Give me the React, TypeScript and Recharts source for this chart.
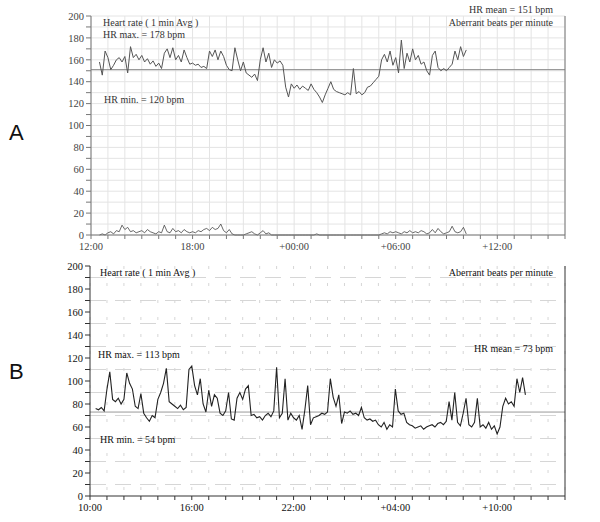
import React from "react";
import { LineChart, Line, XAxis, YAxis, CartesianGrid, ReferenceLine } from "recharts";

// Panel A: start 12:30 (0.5 h after 12:00), 10-minute samples
const startA = 0.5;
const stepH = 1 / 6;
const hrA = [
  158, 146, 168,
  162, 151, 155, 160, 162, 158,
  163, 148, 172, 162, 165, 160,
  164, 158, 161, 156, 159, 154,
  157, 152, 166, 170, 162, 171,
  160, 164, 158, 169, 162, 156,
  157, 155, 156, 153, 154, 152,
  168, 163, 169, 160, 168, 163,
  155, 151, 150, 171, 160, 150,
  158, 148, 146, 144, 147, 141,
  160, 171, 158, 166, 153, 160,
  157, 159, 155, 135, 126, 138,
  134, 137, 133, 136, 134, 132,
  138, 133, 130, 126, 121, 128,
  134, 140, 133, 131, 130, 129,
  128, 130, 128, 152, 129, 131,
  128, 130, 135, 136, 139, 142,
  145, 160, 165, 158, 168, 155,
  162, 148, 178, 152, 166, 158,
  170, 160, 164, 156, 158, 150,
  146, 164, 168, 153, 150, 152,
  150, 153, 156, 168, 160, 172,
  163, 169,
];
const abA = [
  0, 1, 0,
  2, 3, 1, 4, 3, 9,
  5, 7, 3, 4, 2, 3,
  4, 2, 5, 3, 2, 1,
  3, 2, 9, 3, 2, 6,
  3, 4, 2, 5, 3, 2,
  3, 2, 4, 3, 5, 6,
  4, 7, 5, 6, 10, 4,
  2, 5, 1, 0, 0, 0,
  0, 1, 2, 3, 1, 0,
  2, 4, 1, 2, 0, 0,
  0, 0, 0, 0, 0, 0,
  0, 0, 0, 0, 0, 0,
  0, 0, 1, 0, 0, 0,
  0, 0, 0, 0, 0, 0,
  0, 0, 0, 0, 0, 0,
  0, 0, 0, 0, 0, 0,
  0, 1, 2, 1, 3, 2,
  3, 2, 1, 3, 2, 4,
  2, 3, 2, 4, 3, 1,
  2, 5, 2, 6, 3, 1,
  2, 3, 8, 3, 2, 3,
  7, 1,
];
const meanA = 151;
const xLabelsA = ["12:00", "18:00", "+00:00", "+06:00", "+12:00"];

// Panel B: start 10:20 (0.33 h after 10:00), 10-minute samples
const startB = 2 / 6;
const hrB = [
  76, 75, 77, 74,
  93, 108, 84, 82, 85, 80,
  84, 107, 98, 93, 78, 76,
  89, 72, 68, 65, 70, 68,
  84, 90, 98, 111, 82, 80,
  78, 76, 79, 75, 77, 110,
  113, 96, 88, 102, 80, 73,
  92, 78, 88, 85, 72, 70,
  74, 90, 67, 66, 85, 90,
  84, 93, 96, 70, 71, 68,
  69, 66, 70, 72, 69, 74,
  112, 68, 72, 102, 66, 72,
  68, 66, 70, 58, 75, 96,
  62, 68, 69, 70, 72, 71,
  73, 102, 86, 78, 88, 63,
  73, 72, 74, 71, 72, 70,
  77, 68, 66, 67, 65, 66,
  62, 60, 64, 58, 62, 60,
  93, 74, 71, 72, 64, 62,
  61, 59, 60, 61, 58, 60,
  61, 62, 60, 63, 64, 62,
  65, 82, 66, 90, 64, 61,
  72, 85, 62, 60, 64, 85,
  60, 62, 59, 64, 58, 61,
  54, 60, 78, 85, 80, 82,
  78, 102, 90, 103, 88,
];
const meanB = 73;
const xLabelsB = ["10:00", "16:00", "22:00", "+04:00", "+10:00"];

const hourTicks = Array.from({ length: 29 }, (_, i) => i);
const yTicks = Array.from({ length: 21 }, (_, i) => i * 10);
const gridHB = [10, 30, 50, 70, 90, 110, 130, 150, 170, 190];

const dataA = hrA.map((v, i) => ({ t: startA + i * stepH, hr: v, ab: abA[i] ?? null }));
const dataB = hrB.map((v, i) => ({ t: startB + i * stepH, hr: v }));

const SERIF = "'Liberation Serif', 'Times New Roman', serif";

function xFmt(labels: string[]) {
  return (v: number) => (v % 6 === 0 && v / 6 < labels.length ? labels[v / 6] : "");
}
const yFmt = (v: number) => (v % 20 === 0 ? String(v) : "");

const txt = (extra: React.CSSProperties): React.CSSProperties => ({
  position: "absolute",
  fontFamily: SERIF,
  fontSize: 10,
  lineHeight: "10px",
  whiteSpace: "nowrap",
  ...extra,
});

export default function App() {
  const tickA = { fontFamily: SERIF, fontSize: 10.5, fill: "#444" };
  const tickB = { fontFamily: SERIF, fontSize: 10.5, fill: "#111" };
  return (
    <div style={{ position: "absolute", left: 0, top: 0, width: 600, height: 522, background: "#fff" }}>
      <div style={{ position: "absolute", left: 0, top: 0 }}>
        <LineChart width={600} height={255} data={dataA} margin={{ top: 16, right: 0, bottom: 0, left: 51 }}>
          <CartesianGrid yAxisId="l" stroke="#e4e4e4" strokeWidth={1} horizontalValues={yTicks} verticalValues={hourTicks} />
          <XAxis
            dataKey="t"
            type="number"
            domain={[0, 28]}
            ticks={hourTicks}
            interval={0}
            tickFormatter={xFmt(xLabelsA)}
            tick={tickA}
            tickSize={4}
            tickMargin={4}
            height={20}
            stroke="#777"
          />
          <YAxis yAxisId="l" domain={[0, 200]} ticks={yTicks} interval={0} tickFormatter={yFmt} tick={tickA} tickSize={5} width={40} stroke="#777" />
          <YAxis yAxisId="r" orientation="right" domain={[0, 200]} ticks={yTicks} interval={0} tickFormatter={yFmt} tick={tickA} tickSize={5} width={35} stroke="#777" />
          <ReferenceLine yAxisId="l" y={meanA} stroke="#8a8a8a" strokeWidth={1} />
          <Line yAxisId="l" dataKey="hr" stroke="#555" strokeWidth={1} dot={false} isAnimationActive={false} />
          <Line yAxisId="l" dataKey="ab" stroke="#444" strokeWidth={0.8} dot={false} isAnimationActive={false} />
        </LineChart>
      </div>
      <div style={{ position: "absolute", left: 0, top: 250 }}>
        <LineChart width={600} height={266} data={dataB} margin={{ top: 16, right: 0, bottom: 0, left: 50 }}>
          <CartesianGrid yAxisId="l" vertical={false} stroke="#d6d6d6" strokeDasharray="16 9" horizontalValues={gridHB} />
          <CartesianGrid yAxisId="l" horizontal={false} stroke="#d6d6d6" strokeDasharray="3 14" verticalValues={hourTicks} />
          <XAxis
            dataKey="t"
            type="number"
            domain={[0, 28]}
            ticks={hourTicks}
            interval={0}
            tickFormatter={xFmt(xLabelsB)}
            tick={tickB}
            tickSize={4}
            tickMargin={4}
            height={20}
            stroke="#333"
          />
          <YAxis yAxisId="l" domain={[0, 200]} ticks={yTicks} interval={0} tickFormatter={yFmt} tick={tickB} tickSize={5} width={40} stroke="#333" />
          <YAxis yAxisId="r" orientation="right" domain={[0, 200]} ticks={yTicks} interval={0} tickFormatter={yFmt} tick={tickB} tickSize={5} width={35} stroke="#333" />
          <ReferenceLine yAxisId="l" y={meanB} stroke="#999" strokeWidth={1} />
          <Line yAxisId="l" dataKey="hr" stroke="#222" strokeWidth={1.1} dot={false} isAnimationActive={false} />
        </LineChart>
      </div>

      <div style={txt({ left: 103, top: 18, color: "#333" })}>Heart rate ( 1 min Avg )</div>
      <div style={txt({ left: 103, top: 30, color: "#333" })}>HR max. = 178 bpm</div>
      <div style={txt({ left: 104, top: 95, color: "#333" })}>HR min. = 120 bpm</div>
      <div style={txt({ right: 47, top: 5, color: "#333" })}>HR mean = 151 bpm</div>
      <div style={txt({ right: 47, top: 18, color: "#333" })}>Aberrant beats per minute</div>

      <div style={txt({ left: 100, top: 268, color: "#111" })}>Heart rate ( 1 min Avg )</div>
      <div style={txt({ left: 98, top: 350, color: "#111" })}>HR max. = 113 bpm</div>
      <div style={txt({ left: 100, top: 435, color: "#111" })}>HR min. = 54 bpm</div>
      <div style={txt({ right: 47, top: 268, color: "#111" })}>Aberrant beats per minute</div>
      <div style={txt({ right: 47, top: 344, color: "#111" })}>HR mean = 73 bpm</div>

      <div style={{ position: "absolute", left: 9, top: 121, fontFamily: "'Liberation Sans', Arial, sans-serif", fontSize: 22, lineHeight: "24px", color: "#111" }}>A</div>
      <div style={{ position: "absolute", left: 9, top: 360, fontFamily: "'Liberation Sans', Arial, sans-serif", fontSize: 22, lineHeight: "24px", color: "#111" }}>B</div>
    </div>
  );
}
